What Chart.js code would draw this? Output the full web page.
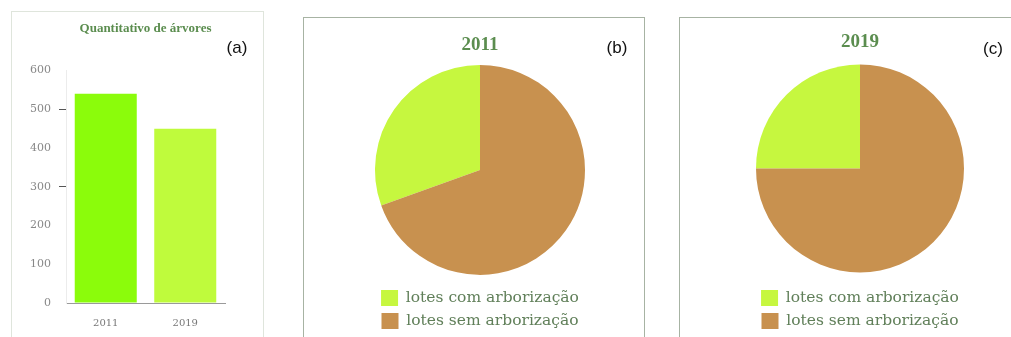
<!DOCTYPE html>
<html>
<head>
<meta charset="utf-8">
<script src="https://cdn.jsdelivr.net/npm/chart.js@4/dist/chart.umd.min.js"></script>
<style>
  body { margin: 0; width: 1011px; height: 337px; overflow: hidden; background: #fff; position: relative; }
  .box { position: absolute; box-sizing: border-box; }
  .cv { position: absolute; }
  .tag { position: absolute; font-family: "Liberation Sans", Arial, sans-serif; font-size: 17px; color: #111; transform: translate(-50%, -50%); }
</style>
</head>
<body>
<div class="box" style="left:11px;top:11px;width:253px;height:340px;border:1px solid #dfe5dc;"></div>
<div class="box" style="left:303px;top:17px;width:342px;height:340px;border:1.5px solid #a7b3a3;"></div>
<div class="box" style="left:679px;top:17px;width:342px;height:340px;border:1.5px solid #a7b3a3;"></div>

<div class="cv" style="left:11px;top:11px;width:252px;height:326px;"><canvas id="barChart"></canvas></div>
<div class="cv" style="left:303px;top:17px;width:341px;height:324px;"><canvas id="pie2011"></canvas></div>
<div class="cv" style="left:679px;top:17px;width:341px;height:324px;"><canvas id="pie2019"></canvas></div>

<div class="tag" style="left:237px;top:48px;">(a)</div>
<div class="tag" style="left:617px;top:48px;">(b)</div>
<div class="tag" style="left:993px;top:49px;">(c)</div>

<script>
// --- data ---
const years = ['2011', '2019'];
const treeCounts = [540, 450];
const yTicks = [0, 100, 200, 300, 400, 500, 600];

const lotLabels = ['lotes com arborização', 'lotes sem arborização'];
const lots2011 = [30.5, 69.5];
const lots2019 = [25, 75];

const titleGreen = '#5b8d4f';
const lotColors = ['#c6f73f', '#c8914f'];

// --- bar chart (a) ---
new Chart(document.getElementById('barChart'), {
    type: 'bar',
    data: {
        labels: years,
        datasets: [{
            data: treeCounts,
            backgroundColor: ['#8bfc0b', '#bffb3c'],
            borderWidth: 0,
            categoryPercentage: 1,
            barPercentage: 0.78
        }]
    },
    options: {
        responsive: true,
        maintainAspectRatio: false,
        animation: false,
        layout: { padding: { left: 11, right: 38 } },
        plugins: {
            legend: { display: false },
            tooltip: { enabled: false },
            title: {
                display: true,
                fullSize: false, // centre over the plot, not the whole box
                text: 'Quantitativo de árvores',
                color: titleGreen,
                font: { family: 'Liberation Serif', size: 13, weight: 'bold' },
                padding: { top: 10, bottom: 34 }
            }
        },
        scales: {
            x: {
                grid: { display: false, drawTicks: false },
                border: { display: true, color: '#9a9a9a', width: 1 },
                ticks: { color: '#777', padding: 14, font: { family: 'DejaVu Serif', size: 10 } },
                afterFit: s => { s.height = 34; }
            },
            y: {
                min: 0,
                max: 600,
                afterBuildTicks: s => { s.ticks = yTicks.map(v => ({ value: v })); },
                grid: {
                    drawOnChartArea: false,
                    tickLength: 7,
                    // only a couple of small dashes show in the source
                    tickColor: ctx => (ctx.tick && (ctx.tick.value === 300 || ctx.tick.value === 500)) ? '#555' : 'rgba(0,0,0,0)'
                },
                border: { display: true, color: '#ececec' },
                ticks: { color: '#888', padding: 8, font: { family: 'DejaVu Serif', size: 11 } },
                afterFit: s => { s.width = 44; }
            }
        }
    }
});

// --- pies (b) and (c) ---
function makePie(id, year, values, padLeft, titleTop, radius) {
    const total = values.reduce((a, b) => a + b, 0);
    new Chart(document.getElementById(id), {
        type: 'pie',
        data: {
            labels: lotLabels,
            datasets: [{
                data: values,
                backgroundColor: lotColors,
                borderWidth: 0,
                radius: radius
            }]
        },
        options: {
            responsive: true,
            maintainAspectRatio: false,
            animation: false,
            rotation: -values[0] / total * 360,
            layout: { padding: { left: padLeft, bottom: 2 } },
            plugins: {
                tooltip: { enabled: false },
                title: {
                    display: true,
                    text: year,
                    color: titleGreen,
                    font: { family: 'Liberation Serif', size: 19, weight: 'bold' },
                    padding: { top: titleTop, bottom: 0 }
                },
                legend: {
                    position: 'bottom',
                    labels: {
                        boxWidth: 17,
                        boxHeight: 16,
                        padding: 7,
                        color: '#607f59',
                        font: { family: 'DejaVu Serif', size: 15.5 }
                    }
                }
            }
        }
    });
}

makePie('pie2011', '2011', lots2011, 13, 17, 105);
makePie('pie2019', '2019', lots2019, 21, 14, 104);
</script>
</body>
</html>
